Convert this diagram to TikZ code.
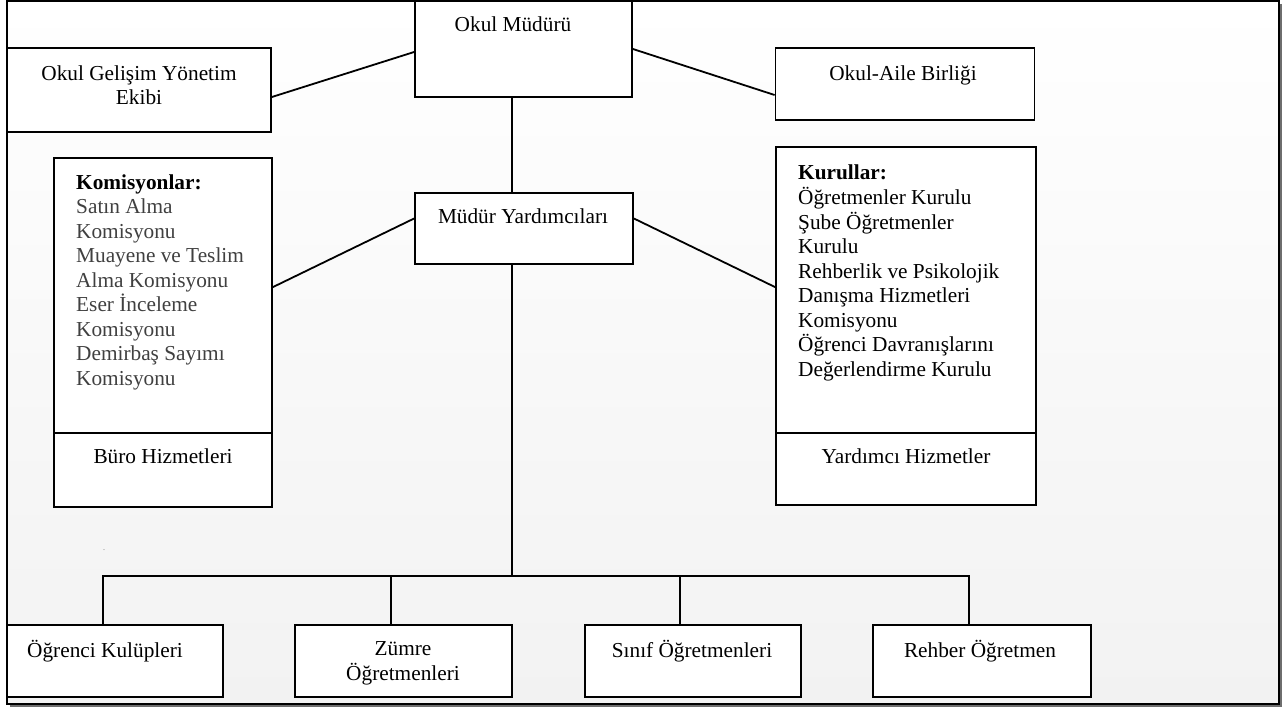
\documentclass[tikz,border=0pt]{standalone}
\usepackage{fontspec}
\setmainfont{Liberation Serif}
\definecolor{bggray}{RGB}{242,242,242}
\definecolor{itemgray}{RGB}{64,64,64}
\definecolor{shadowgray}{RGB}{110,110,110}
\begin{document}
\begin{tikzpicture}[x=1pt,y=-1pt,
  box/.style={draw, line width=1.8pt, fill=white, inner sep=0pt, rectangle},
  conn/.style={line width=1.8pt},
  txt/.style={font=\fontsize{21.3}{24.5}\selectfont, inner sep=0pt},
]
\useasboundingbox (0,0) rectangle (1284,709);
% frame
\shade[top color=white, bottom color=bggray] (7,1) rectangle (1279,704);
\draw[line width=2pt, shadowgray] (1281,4) -- (1281,706) -- (10,706);
\draw[line width=2pt] (7,1) rectangle (1279,704);

% boxes
\node[box, minimum width=217pt, minimum height=96pt] (mudur) at (523.5,49) {};
\node[box, minimum width=264pt, minimum height=84pt] (ogye) at (139,90) {};
\node[box, minimum width=259pt, minimum height=72pt] (oab) at (905,84) {};
\node[box, minimum width=218pt, minimum height=71pt] (myard) at (524,228.5) {};
\node[box, minimum width=218pt, minimum height=275pt] (komis) at (163,295.5) {};
\node[box, minimum width=218pt, minimum height=74pt] (buro) at (163,470) {};
\node[box, minimum width=260pt, minimum height=286pt] (kurul) at (906,290) {};
\node[box, minimum width=260pt, minimum height=72pt] (yard) at (906,469) {};
\node[box, minimum width=216pt, minimum height=72pt] (ogk) at (115,661) {};
\node[box, minimum width=217pt, minimum height=72pt] (zumre) at (403.5,661) {};
\node[box, minimum width=216pt, minimum height=72pt] (sinif) at (693,661) {};
\node[box, minimum width=218pt, minimum height=72pt] (rehber) at (982,661) {};

% texts
\node[txt, anchor=base] (mudurT) at (513,32) {Okul Müdürü};
\node[txt, anchor=north, align=center] (ogyeT) at (139,62.85) {\strut Okul Gelişim Yönetim\\Ekibi};
\node[txt, anchor=base] (oabT) at (903,80) {Okul-Aile Birliği};
\node[txt, anchor=base] (myardT) at (523,223) {Müdür Yardımcıları};
\node[txt, anchor=north west, align=left, text=itemgray] (komisT) at (76,172) {\strut\textcolor{black}{\textbf{Komisyonlar:}}\\Satın Alma\\Komisyonu\\Muayene ve Teslim\\Alma Komisyonu\\Eser İnceleme\\Komisyonu\\Demirbaş Sayımı\\Komisyonu};
\node[txt, anchor=base] (buroT) at (163,463) {Büro Hizmetleri};
\node[txt, anchor=north west, align=left] (kurulT) at (798,161.85) {\strut\textbf{Kurullar:}\\Öğretmenler Kurulu\\Şube Öğretmenler\\Kurulu\\Rehberlik ve Psikolojik\\Danışma Hizmetleri\\Komisyonu\\Öğrenci Davranışlarını\\Değerlendirme Kurulu};
\node[txt, anchor=base] (yardT) at (906,463) {Yardımcı Hizmetler};
\node[txt, anchor=base] (ogkT) at (105,657) {Öğrenci Kulüpleri};
\node[txt, anchor=north, align=center] (zumreT) at (403,637.85) {\strut Zümre\\Öğretmenleri};
\node[txt, anchor=base] (sinifT) at (692,657) {Sınıf Öğretmenleri};
\node[txt, anchor=base] (rehberT) at (980,657) {Rehber Öğretmen};
\node[inner sep=0pt, font=\fontsize{8}{8}\selectfont, text=shadowgray] (dot) at (104,550) {.};

% connectors
\coordinate (bus) at (512,577);
\draw[conn] ([yshift=-3pt]mudur.west) -- ([yshift=-7pt]ogye.east);
\draw[conn] (mudur.east) -- ([yshift=-11pt]oab.west);
\draw[conn] (mudur.south -| bus) -- (myard.north -| bus);
\draw[conn] ([yshift=10pt]myard.west) -- ([yshift=-130pt]komis.north east);
\draw[conn] ([yshift=10pt]myard.east) -- ([yshift=-141pt]kurul.north west);
\draw[conn] (myard.south -| bus) -- (bus);
\draw[conn] ([xshift=-12pt]ogk.north) -- ++(0,-48) -| ([xshift=-13pt]rehber.north);
\draw[conn] ([xshift=-12.5pt]zumre.north) -- ++(0,-48);
\draw[conn] ([xshift=-13pt]sinif.north) -- ++(0,-48);
\end{tikzpicture}
\end{document}
